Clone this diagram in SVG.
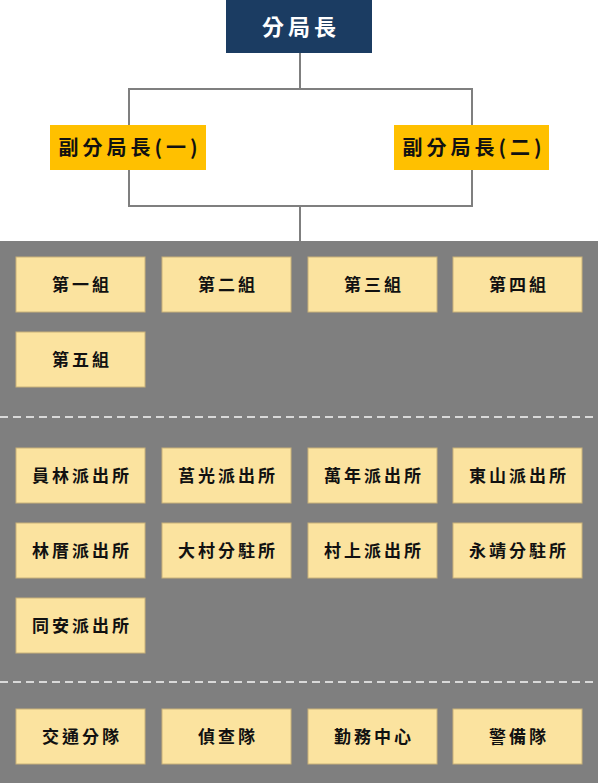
<svg xmlns="http://www.w3.org/2000/svg" width="600" height="783" viewBox="0 0 600 783">
<style>
.box{fill:#fbe39f;stroke:#c9b27a;stroke-width:1}
.t{font-family:"Noto Sans CJK TC","Noto Sans CJK SC",sans-serif;font-size:17px;font-weight:700;fill:#111;text-anchor:middle;letter-spacing:3px}
.dep{fill:#ffc000}
.dt{font-family:"Noto Sans CJK TC","Noto Sans CJK SC",sans-serif;font-size:20px;font-weight:700;fill:#111;text-anchor:middle;letter-spacing:4px}
.conn{fill:none;stroke:#7f7f7f;stroke-width:2}
.dash{stroke:#d9d9d9;stroke-width:2;stroke-dasharray:8 5}
</style>
<rect x="0" y="0" width="600" height="783" fill="#ffffff"/>
<rect x="0" y="241" width="598" height="542" fill="#7f7f7f"/>
<g id="connectors">
<path class="conn" d="M300 53 V89 M129 125 V89 H472 V125 M129 170 V206 H472 V170 M300 206 V241"/>
</g>
<line class="dash" x1="0" y1="417" x2="598" y2="417"/>
<line class="dash" x1="0" y1="682" x2="598" y2="682"/>
<g id="chief">
<rect x="226" y="0" width="146" height="53" fill="#1b3c62"/>
<text x="301" y="35" font-family="'Noto Sans CJK TC','Noto Sans CJK SC',sans-serif" font-size="22" font-weight="700" fill="#ffffff" text-anchor="middle" letter-spacing="4">分局長</text>
</g>
<g id="deputy1">
<rect class="dep" x="50" y="125" width="156" height="45"/>
<text class="dt" x="130" y="155">副分局長(一)</text>
</g>
<g id="deputy2">
<rect class="dep" x="394" y="125" width="155" height="45"/>
<text class="dt" x="474" y="155">副分局長(二)</text>
</g>
<g id="g1"><rect class="box" x="16" y="257" width="129" height="55"/><text class="t" x="82" y="291">第一組</text></g>
<g id="g2"><rect class="box" x="162" y="257" width="129" height="55"/><text class="t" x="228" y="291">第二組</text></g>
<g id="g3"><rect class="box" x="308" y="257" width="129" height="55"/><text class="t" x="374" y="291">第三組</text></g>
<g id="g4"><rect class="box" x="453" y="257" width="129" height="55"/><text class="t" x="519" y="291">第四組</text></g>
<g id="g5"><rect class="box" x="16" y="332" width="129" height="55"/><text class="t" x="82" y="366">第五組</text></g>
<g id="p1"><rect class="box" x="16" y="448" width="129" height="55"/><text class="t" x="82" y="482">員林派出所</text></g>
<g id="p2"><rect class="box" x="162" y="448" width="129" height="55"/><text class="t" x="228" y="482">莒光派出所</text></g>
<g id="p3"><rect class="box" x="308" y="448" width="129" height="55"/><text class="t" x="374" y="482">萬年派出所</text></g>
<g id="p4"><rect class="box" x="453" y="448" width="129" height="55"/><text class="t" x="519" y="482">東山派出所</text></g>
<g id="p5"><rect class="box" x="16" y="523" width="129" height="55"/><text class="t" x="82" y="557">林厝派出所</text></g>
<g id="p6"><rect class="box" x="162" y="523" width="129" height="55"/><text class="t" x="228" y="557">大村分駐所</text></g>
<g id="p7"><rect class="box" x="308" y="523" width="129" height="55"/><text class="t" x="374" y="557">村上派出所</text></g>
<g id="p8"><rect class="box" x="453" y="523" width="129" height="55"/><text class="t" x="519" y="557">永靖分駐所</text></g>
<g id="p9"><rect class="box" x="16" y="598" width="129" height="55"/><text class="t" x="82" y="632">同安派出所</text></g>
<g id="u1"><rect class="box" x="16" y="709" width="129" height="55"/><text class="t" x="82" y="743">交通分隊</text></g>
<g id="u2"><rect class="box" x="162" y="709" width="129" height="55"/><text class="t" x="228" y="743">偵查隊</text></g>
<g id="u3"><rect class="box" x="308" y="709" width="129" height="55"/><text class="t" x="374" y="743">勤務中心</text></g>
<g id="u4"><rect class="box" x="453" y="709" width="129" height="55"/><text class="t" x="519" y="743">警備隊</text></g>
</svg>
